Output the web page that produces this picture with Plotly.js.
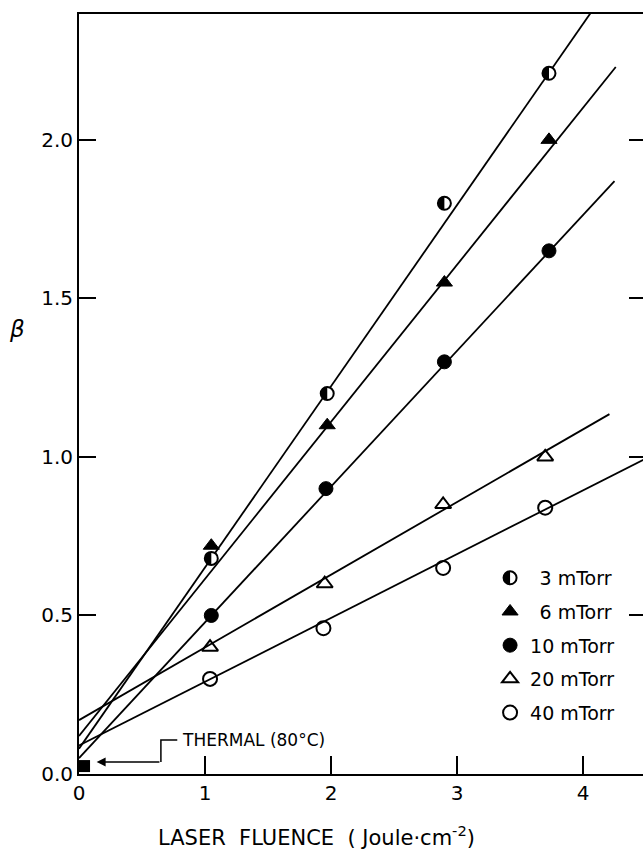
<!DOCTYPE html>
<html>
<head>
<meta charset="utf-8">
<script src="https://cdn.plot.ly/plotly-3.0.1.min.js"></script>
<style>
html,body{margin:0;padding:0;overflow:hidden;background:#fff;width:643px;height:850px;}
#chart{width:646px;height:850px;}
</style>
</head>
<body>
<div id="chart"></div>
<script>
// Measured points (laser fluence, Joule/cm^2 ; beta)
const fluence3  = [1.05, 1.97, 2.90, 3.73];
const beta3     = [0.68, 1.20, 1.80, 2.21];
const fluence6  = [1.05, 1.97, 2.90, 3.73];
const beta6     = [0.72, 1.10, 1.55, 2.00];
const fluence10 = [1.05, 1.96, 2.90, 3.73];
const beta10    = [0.50, 0.90, 1.30, 1.65];
const fluence20 = [1.04, 1.95, 2.89, 3.70];
const beta20    = [0.40, 0.60, 0.85, 1.00];
const fluence40 = [1.04, 1.94, 2.89, 3.70];
const beta40    = [0.30, 0.46, 0.65, 0.84];

// Fitted lines (end points)
const fit3X  = [0, 4.06];  const fit3Y  = [0.08, 2.40];
const fit6X  = [0, 4.26];  const fit6Y  = [0.12, 2.23];
const fit10X = [0, 4.25];  const fit10Y = [0.05, 1.87];
const fit20X = [0, 4.21];  const fit20Y = [0.17, 1.135];
const fit40X = [0, 4.50];  const fit40Y = [0.09, 0.995];

// Thermal (80 C) point
const thermalX = [0.04];
const thermalY = [0.025];

const seriesNames = ['3 mTorr', '6 mTorr', '10 mTorr', '20 mTorr', '40 mTorr'];
const xTickVals = [0, 1, 2, 3, 4];
const xTickText = ['0', '1', '2', '3', '4'];
const yTickVals = [0, 0.5, 1.0, 1.5, 2.0];
const yTickText = ['0.0', '0.5', '1.0', '1.5', '2.0'];

const FONT = 'DejaVu Sans, sans-serif';
const HALF_R = 6.5;

function fitLine(x, y) {
  return {x: x, y: y, mode: 'lines', type: 'scatter', showlegend: false,
          line: {color: 'black', width: 1.8}, hoverinfo: 'skip'};
}
function pts(x, y, name, marker, grp) {
  return {x: x, y: y, mode: 'markers', type: 'scatter', name: name,
          legendgroup: grp, marker: marker, cliponaxis: false};
}

const data = [
  fitLine(fit3X, fit3Y), fitLine(fit6X, fit6Y), fitLine(fit10X, fit10Y),
  fitLine(fit20X, fit20Y), fitLine(fit40X, fit40Y),
  pts(fluence3, beta3, '\u2002' + seriesNames[0],
      {symbol: 'circle', size: 13, color: 'white',
       line: {color: 'black', width: 2}}, 'g1'),
  pts(fluence6, beta6, '\u2002' + seriesNames[1],
      {symbol: 'triangle-up', size: 14, color: 'black', line: {color: 'black', width: 1}}, 'g2'),
  pts(fluence10, beta10, seriesNames[2],
      {symbol: 'circle', size: 14, color: 'black', line: {color: 'black', width: 1}}, 'g3'),
  pts(fluence20, beta20, seriesNames[3],
      {symbol: 'triangle-up-open', size: 14, color: 'black', line: {color: 'black', width: 2}}, 'g4'),
  pts(fluence40, beta40, seriesNames[4],
      {symbol: 'circle-open', size: 14, color: 'black', line: {color: 'black', width: 2}}, 'g5'),
  {x: thermalX, y: thermalY, mode: 'markers', type: 'scatter', showlegend: false,
   marker: {symbol: 'square', size: 12, color: 'black'}, cliponaxis: false}
];

const layout = {
  width: 646, height: 850,
  margin: {l: 79, r: 0, t: 14, b: 76},
  paper_bgcolor: 'white', plot_bgcolor: 'white',
  font: {family: FONT, color: 'black', size: 18},
  showlegend: true,
  legend: {x: 0.725, y: 0.283, xanchor: 'left', yanchor: 'top',
           bgcolor: 'rgba(0,0,0,0)', traceorder: 'grouped', tracegroupgap: 6,
           font: {family: FONT, size: 19, color: 'black'}, itemwidth: 30},
  xaxis: {range: [0, 4.5], showgrid: false, zeroline: false,
          showline: true, linewidth: 2, linecolor: 'black', mirror: true,
          ticks: 'inside', ticklen: 18, tickwidth: 1.5, tickcolor: 'black',
          tickvals: xTickVals, ticktext: xTickText,
          tickfont: {family: FONT, size: 20}},
  yaxis: {range: [0, 2.397], showgrid: false, zeroline: false,
          showline: true, linewidth: 2, linecolor: 'black', mirror: 'ticks',
          ticks: 'inside', ticklen: 17, tickwidth: 2, tickcolor: 'black',
          tickvals: yTickVals, ticktext: yTickText,
          tickfont: {family: FONT, size: 20}},
  annotations: [
    {xref: 'paper', yref: 'paper', x: 0.418, y: -0.081, xanchor: 'center', yanchor: 'middle',
     text: 'LASER\u00a0 FLUENCE\u00a0 ( Joule\u00b7cm<sup>-2</sup>)', showarrow: false,
     font: {family: FONT, size: 21}},
    {xref: 'paper', yref: 'paper', x: -0.11, y: 0.585, xanchor: 'center', yanchor: 'middle',
     text: '<i>\u03b2</i>', showarrow: false, font: {family: FONT, size: 23}},
    {xref: 'x', yref: 'y', x: 0.80, y: 0.107, xanchor: 'left', yanchor: 'middle',
     text: 'THERMAL (80\u00b0C)', showarrow: false, font: {family: FONT, size: 17}},
    {xref: 'x', yref: 'y', axref: 'x', ayref: 'y', x: 0.14, y: 0.038, ax: 0.65, ay: 0.038,
     text: '', showarrow: true, arrowhead: 2, arrowsize: 1.2, arrowwidth: 1.5, arrowcolor: 'black'}
  ],
  shapes: [
    {type: 'path', xref: 'x', yref: 'y', path: 'M 0.78 0.107 L 0.65 0.107 L 0.65 0.038',
     line: {color: 'black', width: 1.5}}
  ]
};

function addHalf(pathEl) {
  const ns = 'http://www.w3.org/2000/svg';
  const h = document.createElementNS(ns, 'path');
  h.setAttribute('d', 'M0,-' + HALF_R + 'A' + HALF_R + ',' + HALF_R + ' 0 0,0 0,' + HALF_R + 'Z');
  const tr = pathEl.getAttribute('transform');
  if (tr) h.setAttribute('transform', tr);
  h.setAttribute('style', 'fill:black;stroke:none;');
  pathEl.parentNode.insertBefore(h, pathEl.nextSibling);
}

Plotly.newPlot('chart', data, layout, {displayModeBar: false, staticPlot: true}).then(function (gd) {
  const traces = gd.querySelectorAll('.scatterlayer .trace');
  const t3 = traces[5];
  if (t3) t3.querySelectorAll('path.point').forEach(addHalf);
  const leg = gd.querySelectorAll('.legend .traces');
  if (leg[0]) leg[0].querySelectorAll('.legendpoints path.scatterpts').forEach(addHalf);
});
</script>
</body>
</html>
